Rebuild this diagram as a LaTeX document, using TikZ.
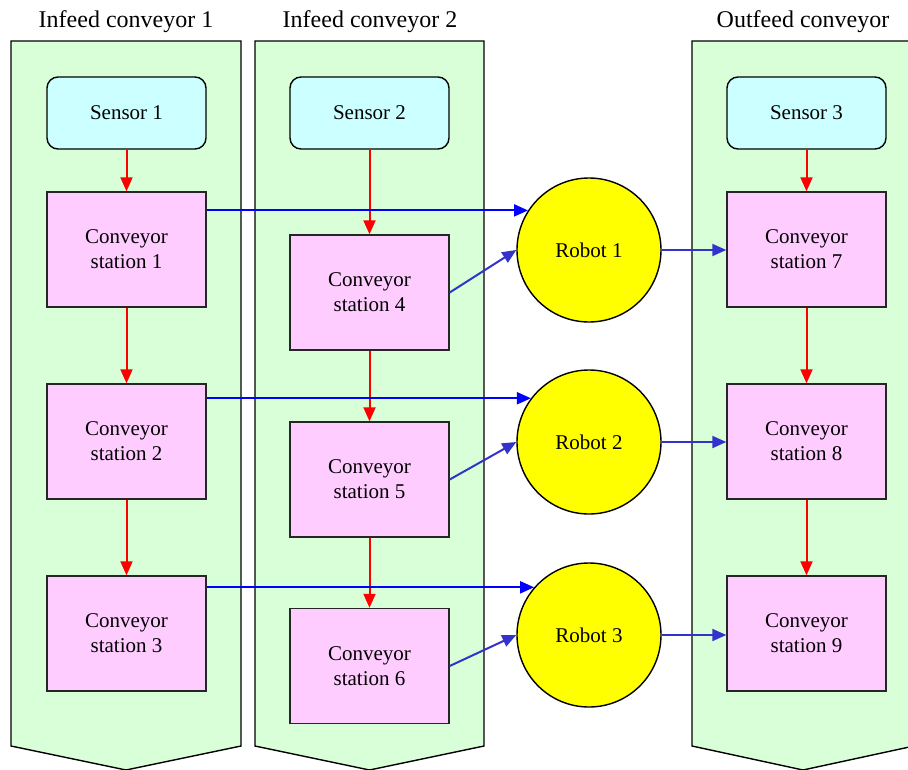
\documentclass[tikz,border=0pt]{standalone}
\usepackage{fontspec}
\setmainfont{Liberation Serif}
\newfontfamily\diagfont{Liberation Serif}
\usetikzlibrary{arrows.meta}
\definecolor{lanegreen}{HTML}{D9FFD9}
\definecolor{sensorcyan}{HTML}{CCFFFF}
\definecolor{stationpink}{HTML}{FFCCFF}
\definecolor{flowred}{HTML}{FF0000}
\definecolor{feedblue}{HTML}{0000FF}
\definecolor{robotblue}{HTML}{3333CC}
\definecolor{robotyellow}{HTML}{FFFF00}
\tikzset{
  lane/.style={draw=black, fill=lanegreen, line width=1.4pt, line join=miter},
  lanetitle/.style={font=\diagfont\fontsize{24}{28}\selectfont, anchor=center},
  sensorbox/.style={draw=black, fill=sensorcyan, line width=1.4pt, rounded corners=11pt,
    minimum width=159pt, minimum height=72pt, font=\diagfont\fontsize{21}{25}\selectfont},
  stationbox/.style={draw=black!85, fill=stationpink, line width=1.4pt,
    minimum width=159pt, minimum height=115pt, align=center,
    font=\diagfont\fontsize{21}{25}\selectfont},
  robot/.style={circle, draw=black, fill=robotyellow, line width=1.4pt,
    minimum size=144pt, inner sep=0pt, font=\diagfont\fontsize{21}{25}\selectfont},
  tip/.style={-{Triangle[length=14pt,width=12pt]}},
  redflow/.style={tip, draw=flowred, line width=2pt},
  feedflow/.style={tip, draw=feedblue, line width=2pt},
  robotflow/.style={tip, draw=robotblue, line width=2pt},
}
\begin{document}
\begin{tikzpicture}[x=1pt, y=-1pt]
\useasboundingbox (0,0) rectangle (908,769);
\begin{scope}
\clip (0,0) rectangle (908,769);
% conveyor lanes with chevron ends
\draw[lane] (11,41) -- (241,41) -- (241,746) -- (126,770) -- (11,746) -- cycle;
\draw[lane] (255,41) -- (484,41) -- (484,746) -- (369.5,770) -- (255,746) -- cycle;
\draw[lane] (692,41) -- (914,41) -- (914,746) -- (803,770) -- (692,746) -- cycle;
\end{scope}

% lane titles
\node[lanetitle] (t1) at (126,22) {Infeed conveyor 1};
\node[lanetitle] (t2) at (370,22) {Infeed conveyor 2};
\node[lanetitle] (t3) at (803,22) {Outfeed conveyor};

% sensors
\node[sensorbox] (s1) at (126.5,113) {Sensor 1};
\node[sensorbox] (s2) at (369.5,113) {Sensor 2};
\node[sensorbox] (s3) at (806.5,113) {Sensor 3};

% conveyor stations
\node[stationbox] (c1) at (126.5,249.5) {Conveyor\\station 1};
\node[stationbox] (c2) at (126.5,441.5) {Conveyor\\station 2};
\node[stationbox] (c3) at (126.5,633.5) {Conveyor\\station 3};
\node[stationbox] (c4) at (369.5,292.5) {Conveyor\\station 4};
\node[stationbox] (c5) at (369.5,479.5) {Conveyor\\station 5};
\node[stationbox] (c6) at (369.5,666) {Conveyor\\station 6};
\node[stationbox] (c7) at (806.5,249.5) {Conveyor\\station 7};
\node[stationbox] (c8) at (806.5,441.5) {Conveyor\\station 8};
\node[stationbox] (c9) at (806.5,633.5) {Conveyor\\station 9};

% robots
\node[robot] (r1) at (589,250) {Robot 1};
\node[robot] (r2) at (589,442) {Robot 2};
\node[robot] (r3) at (589,635) {Robot 3};

% flow along each conveyor
\draw[redflow] (s1) -- (c1);
\draw[redflow] (c1) -- (c2);
\draw[redflow] (c2) -- (c3);
\draw[redflow] (s2) -- (c4);
\draw[redflow] (c4) -- (c5);
\draw[redflow] (c5) -- (c6);
\draw[redflow] (s3) -- (c7);
\draw[redflow] (c7) -- (c8);
\draw[redflow] (c8) -- (c9);

% infeed 1 to robots, level runs into the upper left of each robot
\draw[feedflow] (c1.east |- r1.147.2) -- (r1.147.2);
\draw[feedflow] (c2.east |- r2.143.3) -- (r2.143.3);
\draw[feedflow] (c3.east |- r3.139.2) -- (r3.139.2);

% infeed 2 to robots
\draw[robotflow] (c4.east) -- (r1.west);
\draw[robotflow] (c5.east) -- (r2.west);
\draw[robotflow] (c6.east) -- (r3.west);

% robots to outfeed
\draw[robotflow] (r1.east) -- (c7.west |- r1.east);
\draw[robotflow] (r2.east) -- (c8.west |- r2.east);
\draw[robotflow] (r3.east) -- (c9.west |- r3.east);
\end{tikzpicture}
\end{document}
